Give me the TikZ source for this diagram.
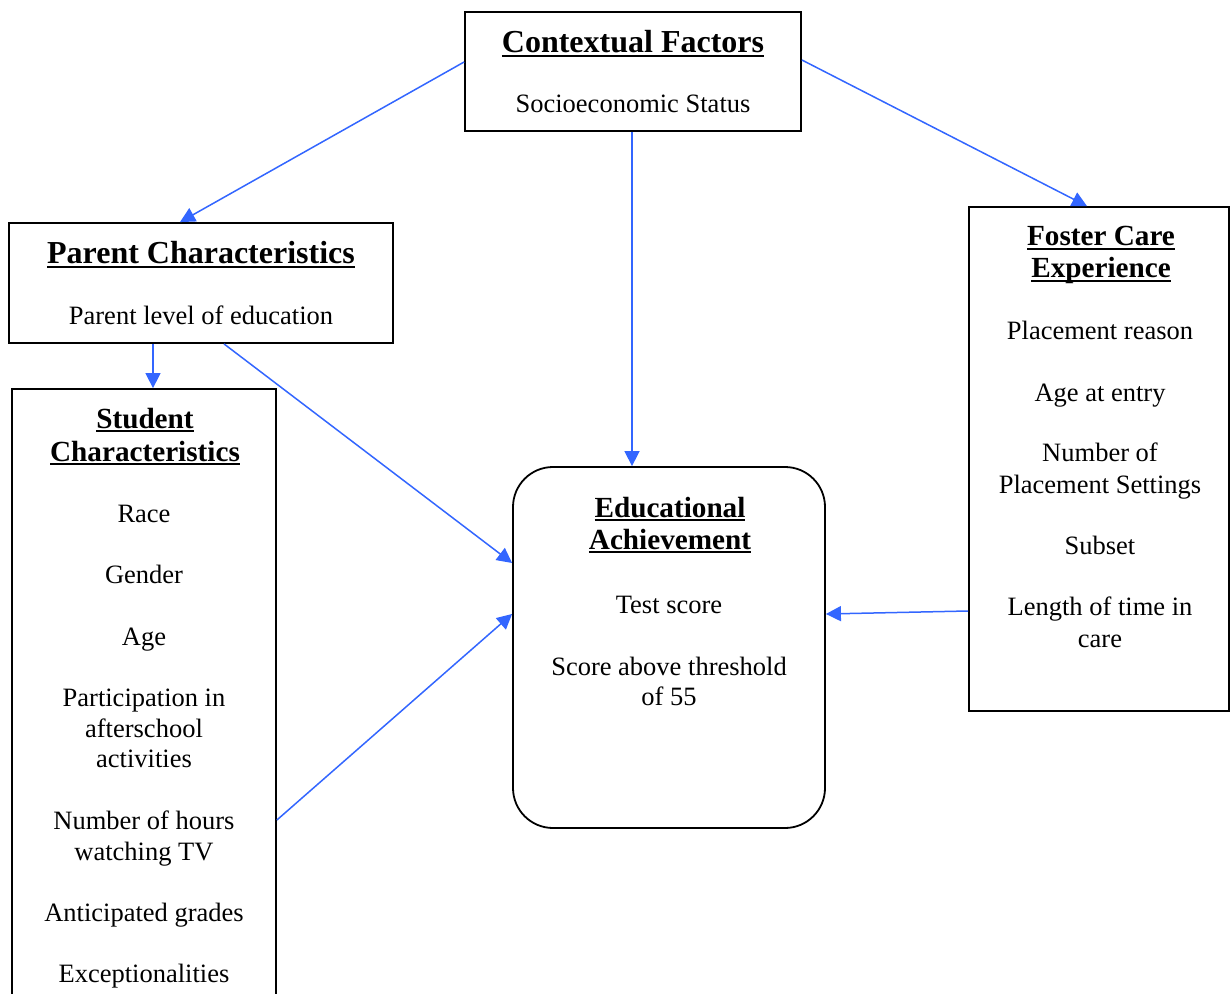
\documentclass[tikz,border=0pt]{standalone}
\usepackage{fontspec}
\setmainfont{Liberation Serif}
\usetikzlibrary{arrows.meta}
\newcommand{\myul}[1]{\setbox0\hbox{#1}\rlap{\rule[-0.13em]{\wd0}{0.075em}}\box0}
\tikzset{
  box/.style={draw=black, line width=0.9pt, rectangle, inner sep=0pt},
  roundbox/.style={box, rounded corners=20pt},
  conn/.style={draw={rgb,255:red,51;green,102;blue,255}, line width=0.75pt,
    -{Triangle[length=7.5pt,width=7.5pt]}},
  body/.style={anchor=base, inner sep=0pt, font=\fontsize{13.25}{16}\selectfont},
  bigtitle/.style={anchor=base, inner sep=0pt, font=\fontsize{16}{19}\selectfont\bfseries},
  title/.style={anchor=base, inner sep=0pt, font=\fontsize{14.6}{17}\selectfont\bfseries},
}
\begin{document}
\begin{tikzpicture}[x=0.5pt,y=-0.5pt]
\clip (0,0) rectangle (1230,994);
\useasboundingbox (0,0) rectangle (1230,994);
% boxes
\node[box, minimum width=168pt, minimum height=59.5pt] (ctx) at (633,71.5) {};
\node[box, minimum width=192pt, minimum height=60pt] (par) at (201,283) {};
\node[box, minimum width=132pt, minimum height=310.5pt] (stu) at (144,699.5) {};
\node[box, minimum width=130pt, minimum height=252pt] (fos) at (1099,459) {};
\node[roundbox, minimum width=156pt, minimum height=180.5pt] (ed) at (669,647.5) {};
% texts
\node[bigtitle] (ctxT) at (633,53) {\myul{Contextual Factors}};
\node[body] (ctxA) at (633,113) {Socioeconomic Status};
\node[bigtitle] (parT) at (201,264) {\myul{Parent Characteristics}};
\node[body] (parA) at (201,325) {Parent level of education};
\node[title] (stuT1) at (145,428) {\myul{Student}};
\node[title] (stuT2) at (145,461) {\myul{Characteristics}};
\node[body] (stuA) at (144,522) {Race};
\node[body] (stuB) at (144,583) {Gender};
\node[body] (stuC) at (144,645) {Age};
\node[body] (stuD1) at (144,706) {Participation in};
\node[body] (stuD2) at (144,737) {afterschool};
\node[body] (stuD3) at (144,767) {activities};
\node[body] (stuE1) at (144,829) {Number of hours};
\node[body] (stuE2) at (144,860) {watching TV};
\node[body] (stuF) at (144,921) {Anticipated grades};
\node[body] (stuG) at (144,982) {Exceptionalities};
\node[title] (fosT1) at (1101,246) {\myul{Foster Care}};
\node[title] (fosT2) at (1101,278) {\myul{Experience}};
\node[body] (fosA) at (1100,340) {Placement reason};
\node[body] (fosB) at (1100,401) {Age at entry};
\node[body] (fosC1) at (1100,461) {Number of};
\node[body] (fosC2) at (1100,493) {Placement Settings};
\node[body] (fosD) at (1100,554) {Subset};
\node[body] (fosE1) at (1100,615) {Length of time in};
\node[body] (fosE2) at (1100,647) {care};
\node[title] (edT1) at (670,517) {\myul{Educational}};
\node[title] (edT2) at (670,549) {\myul{Achievement}};
\node[body] (edA) at (669,613) {Test score};
\node[body] (edB1) at (669,675) {Score above threshold};
\node[body] (edB2) at (669,705) {of 55};
% connectors
\draw[conn] ([yshift=4.75pt]ctx.west) -- ([xshift=-10.5pt]par.north);
\draw[conn] ([yshift=5.75pt]ctx.east) -- ([xshift=-6pt]fos.north);
\draw[conn] ([xshift=-0.5pt]ctx.south) -- ([xshift=-0.5pt]ctx.south |- ed.north);
\coordinate (parS) at ([xshift=-24pt]par.south);
\draw[conn] (parS) -- (parS |- stu.north);
\draw[conn] ([xshift=11.5pt]par.south) -- ([yshift=42.25pt]ed.west);
\draw[conn] ([yshift=-60.25pt]stu.east) -- ([yshift=16.75pt]ed.west);
\draw[conn] ([yshift=-76pt]fos.west) -- ([yshift=16.75pt]ed.east);
\end{tikzpicture}
\end{document}
